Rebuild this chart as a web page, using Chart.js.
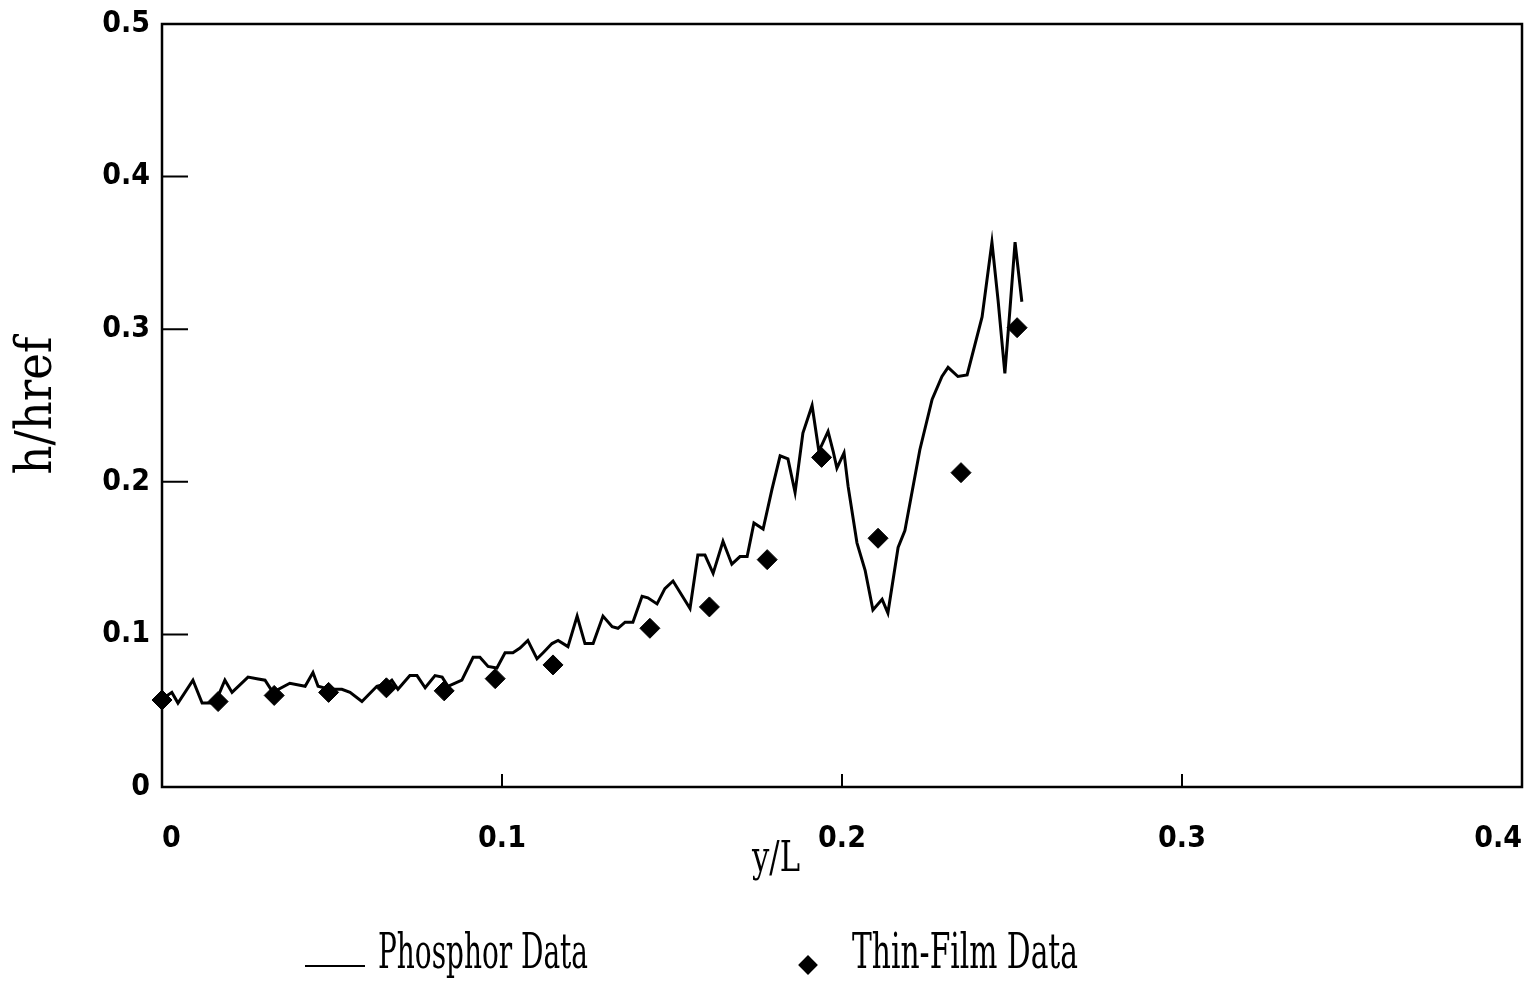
<!DOCTYPE html>
<html>
<head>
<meta charset="utf-8">
<script src="https://cdn.jsdelivr.net/npm/chart.js@4.4.0/dist/chart.umd.min.js"></script>
<style>
  html, body { margin: 0; padding: 0; background: #fff; }
  #wrap { position: relative; width: 1533px; height: 983px; overflow: hidden; }
  #chart { position: absolute; left: 0; top: 0; }
  .txt { position: absolute; font-family: 'DejaVu Serif Condensed', 'DejaVu Serif', serif; color: #000;
         white-space: nowrap; transform-origin: 0 0; line-height: 1; }
  #leg-line { position: absolute; left: 305px; top: 965px; width: 60px; height: 2px; background: #000; }
  #leg-diamond { position: absolute; left: 801px; top: 958px; width: 14px; height: 14px; background: #000; transform: rotate(45deg); }
</style>
</head>
<body>
<div id="wrap">
  <canvas id="chart" width="1533" height="983"></canvas>
  <div id="x-title" class="txt">y/L</div>
  <div id="leg-line"></div>
  <div id="leg-txt1" class="txt">Phosphor Data</div>
  <div id="leg-diamond"></div>
  <div id="leg-txt2" class="txt">Thin-Film Data</div>
</div>
<script>
/* h/href vs y/L — phosphor trace (line) and thin-film gauges (diamonds). */
var xTickLabels = ['0', '0.1', '0.2', '0.3', '0.4'];
var yTickLabels = ['0', '0.1', '0.2', '0.3', '0.4', '0.5'];

var phosphorX = [0.0003,0.0029,0.0047,0.0091,0.0118,0.0147,0.0162,0.0185,0.0206,0.0253,
  0.0279,0.0303,0.0326,0.0376,0.0421,0.0444,0.0459,0.0494,0.0529,0.0553,
  0.0588,0.0632,0.0665,0.0676,0.0694,0.0729,0.0750,0.0774,0.0803,0.0824,
  0.0841,0.0882,0.0915,0.0935,0.0959,0.0985,0.1009,0.1032,0.1053,0.1076,
  0.1103,0.1121,0.1147,0.1165,0.1194,0.1221,0.1244,0.1268,0.1297,0.1324,
  0.1341,0.1362,0.1385,0.1412,0.1429,0.1456,0.1479,0.1503,0.1553,0.1576,
  0.1597,0.1621,0.1650,0.1676,0.1700,0.1721,0.1741,0.1768,0.1794,0.1818,
  0.1841,0.1862,0.1885,0.1912,0.1932,0.1959,0.1974,0.1985,0.2006,0.2018,
  0.2044,0.2068,0.2091,0.2118,0.2135,0.2165,0.2185,0.2229,0.2265,0.2294,
  0.2312,0.2341,0.2368,0.2412,0.2441,0.2459,0.2479,0.2494,0.2509,0.2529];
var phosphorY = [0.058,0.062,0.055,0.070,0.055,0.055,0.058,0.070,0.062,0.072,
  0.071,0.070,0.062,0.068,0.066,0.075,0.066,0.064,0.064,0.062,
  0.056,0.066,0.068,0.070,0.064,0.073,0.073,0.065,0.073,0.072,
  0.066,0.070,0.085,0.085,0.079,0.078,0.088,0.088,0.091,0.096,
  0.084,0.088,0.094,0.096,0.092,0.112,0.094,0.094,0.112,0.105,
  0.104,0.108,0.108,0.125,0.124,0.120,0.130,0.135,0.117,0.152,
  0.152,0.140,0.161,0.146,0.151,0.151,0.173,0.169,0.195,0.217,
  0.215,0.193,0.232,0.250,0.220,0.233,0.220,0.209,0.219,0.197,
  0.160,0.142,0.116,0.123,0.114,0.157,0.168,0.221,0.254,0.269,
  0.275,0.269,0.270,0.308,0.357,0.319,0.271,0.313,0.357,0.318];

var thinFilmX = [0, 0.0165, 0.033, 0.049, 0.066, 0.083, 0.098, 0.115, 0.1435, 0.161, 0.178, 0.194, 0.2106, 0.235, 0.2515];
var thinFilmY = [0.057, 0.056, 0.060, 0.062, 0.065, 0.063, 0.071, 0.080, 0.104, 0.118, 0.149, 0.216, 0.163, 0.206, 0.301];

var X_MIN = 0, X_MAX = 0.4, Y_MIN = 0, Y_MAX = 0.5, STEP = 0.1;

function pairs(xs, ys) {
  var n = Math.min(xs.length, ys.length), out = [];
  for (var i = 0; i < n; i++) out.push({ x: xs[i], y: ys[i] });
  return out;
}

// 'condensed' rides along in the weight slot so the canvas font shorthand picks a narrow face if there is one.
var TICK_FONT = { family: "'DejaVu Sans', sans-serif", size: 30, weight: 'bold condensed' };

// Frame + inward tick marks, like the original plotter output.
var frameTicks = {
  id: 'frameTicks',
  afterDatasetsDraw: function (chart) {
    var ctx = chart.ctx, a = chart.chartArea, xs = chart.scales.x, ys = chart.scales.y;
    ctx.save();
    ctx.strokeStyle = '#000';
    ctx.lineWidth = 2.5;
    ctx.strokeRect(a.left, a.top, a.right - a.left, a.bottom - a.top);
    ctx.lineWidth = 2;
    ctx.beginPath();
    ys.ticks.forEach(function (t) {
      if (t.value <= Y_MIN || t.value >= Y_MAX) return;
      var py = ys.getPixelForValue(t.value);
      ctx.moveTo(a.left, py); ctx.lineTo(a.left + 26, py);
    });
    xs.ticks.forEach(function (t) {
      if (t.value <= X_MIN || t.value >= X_MAX) return;
      var px = xs.getPixelForValue(t.value);
      ctx.moveTo(px, a.bottom); ctx.lineTo(px, a.bottom - 13);
    });
    ctx.stroke();
    ctx.restore();
  }
};

new Chart(document.getElementById('chart').getContext('2d'), {
  type: 'line',
  data: {
    datasets: [{
      label: 'Phosphor Data',
      data: pairs(phosphorX, phosphorY),
      borderColor: '#000', borderWidth: 3,
      pointRadius: 0, tension: 0, fill: false, clip: false
    }, {
      label: 'Thin-Film Data',
      data: pairs(thinFilmX, thinFilmY),
      showLine: false,
      pointStyle: 'rectRot', pointRadius: 10,
      backgroundColor: '#000', borderColor: '#000', borderWidth: 1, clip: false
    }]
  },
  options: {
    responsive: false, animation: false,
    layout: { padding: { left: 0, right: 11, top: 24, bottom: 0 } },
    plugins: { legend: { display: false }, tooltip: { enabled: false } },
    scales: {
      x: {
        type: 'linear', min: X_MIN, max: X_MAX,
        grid: { display: false, drawTicks: false }, border: { display: false },
        ticks: {
          stepSize: STEP, color: '#000', font: TICK_FONT, padding: 34, maxRotation: 0, align: 'inner',
          callback: function (v, i) { return xTickLabels[i]; }
        },
        afterFit: function (s) { s.height = 196; s.paddingLeft = 0; s.paddingRight = 0; }
      },
      y: {
        type: 'linear', min: Y_MIN, max: Y_MAX,
        grid: { display: false, drawTicks: false }, border: { display: false },
        ticks: {
          stepSize: STEP, color: '#000', font: TICK_FONT, padding: 12,
          callback: function (v, i) { return yTickLabels[i]; }
        },
        title: {
          display: true, text: 'h/href', color: '#000',
          font: { family: "'DejaVu Serif Condensed', 'DejaVu Serif', serif", size: 50 },
          padding: { top: 8, bottom: 0 }
        },
        afterFit: function (s) { s.width = 162; s.paddingTop = 0; s.paddingBottom = 0; }
      }
    }
  },
  plugins: [frameTicks]
});

// Place the HTML texts: squeeze each one to the width it has in the figure.
function place(id, left, baseline, size, width) {
  var el = document.getElementById(id);
  el.style.fontSize = size + 'px';
  var w = el.getBoundingClientRect().width;
  el.style.left = left + 'px';
  el.style.top = (baseline - 0.846 * size) + 'px';
  el.style.transform = 'scaleX(' + (width / w) + ')';
}
place('x-title', 752, 872, 42, 48);
place('leg-txt1', 378, 968, 49, 210);
place('leg-txt2', 852, 968, 49, 226);
</script>
</body>
</html>
